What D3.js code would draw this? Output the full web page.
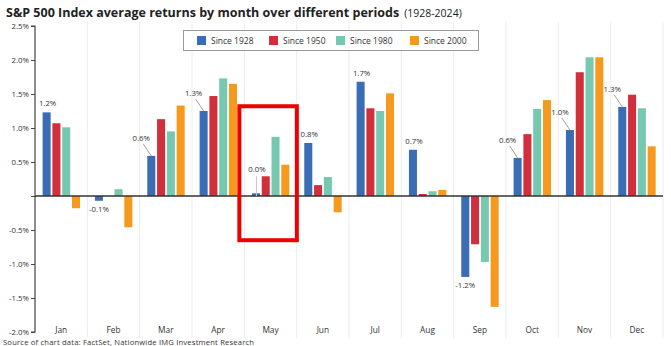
<!DOCTYPE html>
<html><head><meta charset="utf-8">
<script src="https://cdn.jsdelivr.net/npm/d3@7"></script>
<style>
body{margin:0;background:#fff;}
text{font-family:"Open Sans",sans-serif;}
</style></head>
<body><svg id="chart" width="671" height="346"></svg>
<script>
const months = ["Jan","Feb","Mar","Apr","May","Jun","Jul","Aug","Sep","Oct","Nov","Dec"];
const seriesNames = ["Since 1928","Since 1950","Since 1980","Since 2000"];
const since1928 = [1.23,-0.07,0.59,1.25,0.04,0.78,1.68,0.68,-1.19,0.56,0.97,1.31];
const since1950 = [1.07,0.0,1.13,1.47,0.29,0.16,1.29,0.03,-0.71,0.91,1.82,1.49];
const since1980 = [1.01,0.10,0.95,1.73,0.87,0.28,1.25,0.07,-0.97,1.28,2.04,1.29];
const since2000 = [-0.18,-0.46,1.33,1.65,0.46,-0.24,1.51,0.09,-1.63,1.41,2.04,0.73];
const labels = ["1.2%","-0.1%","0.6%","1.3%","0.0%","0.8%","1.7%","0.7%","-1.2%","0.6%","1.0%","1.3%"];
const yTicks = [2.5,2.0,1.5,1.0,0.5,0,-0.5,-1.0,-1.5,-2.0];
const yTickLabels = ["2.5%","2.0%","1.5%","1.0%","0.5%","","-0.5%","-1.0%","-1.5%","-2.0%"];
const highlightMonth = "May";
const colors = ["#3a6db4","#d22f3d","#76c8b0","#f6991f"];

const allSeries = [since1928,since1950,since1980,since2000];
const svg = d3.select("#chart");

const x0 = d3.scaleBand().domain(months).range([35,663]).padding(0);
const x1 = d3.scaleBand().domain(seriesNames).range([7.6,45]).paddingInner(0.18).paddingOuter(0);
const y = d3.scaleLinear().domain([-2,2.5]).range([332,26]);

// title
const title = svg.append("text").attr("x",6).attr("y",17).attr("fill","#222");
title.append("tspan").attr("font-weight","700").attr("font-size","12.5px").text("S&P 500 Index average returns by month over different periods");
title.append("tspan").attr("font-size","10.5px").attr("dx",5).text("(1928-2024)");

// vertical gridlines
const bounds = months.map(m=>x0(m)+x0.bandwidth());
svg.append("g").selectAll("line").data(bounds).join("line")
  .attr("x1",d=>d).attr("x2",d=>d).attr("y1",22).attr("y2",338)
  .attr("stroke","#ececec").attr("stroke-width",1);

// y axis
const yAxis = d3.axisLeft(y).tickValues(yTicks).tickSize(4).tickFormat((d,i)=>yTickLabels[i]);
const ya = svg.append("g").attr("transform","translate(35,0)").call(yAxis);
ya.select(".domain").attr("stroke","#444").attr("stroke-width",1.2).attr("d","M-4,26H0V332H-4");
ya.selectAll(".tick line").attr("stroke","#444");
ya.selectAll(".tick text").attr("font-family","Open Sans").attr("font-size","7.8px").attr("fill","#333").attr("x",-6);

// bars
const data = [];
months.forEach((m,i)=>seriesNames.forEach((s,j)=>data.push({m,s,j,v:allSeries[j][i]})));
svg.append("g").selectAll("rect").data(data).join("rect")
  .attr("x",d=>x0(d.m)+x1(d.s)).attr("width",x1.bandwidth())
  .attr("y",d=>y(Math.max(0,d.v))).attr("height",d=>Math.abs(y(d.v)-y(0)))
  .attr("fill",d=>colors[d.j]);

// zero line
svg.append("line").attr("x1",35).attr("x2",663).attr("y1",y(0)).attr("y2",y(0))
  .attr("stroke","#333").attr("stroke-width",1.3);

// month labels
svg.append("g").selectAll("text").data(months).join("text")
  .attr("x",d=>x0(d)+x0.bandwidth()/2).attr("y",332.5).attr("text-anchor","middle")
  .attr("font-size","8.3px").attr("fill","#333").text(d=>d);

// value labels (blue series)
// mode: a=above, b=below, l=leader, v=vertical leader
const modes = ["a","b","l","l","v","a","a","a","b","l","l","l"];
const lg = svg.append("g");
months.forEach((m,i)=>{
  const v = since1928[i];
  const bx = x0(m)+x1(seriesNames[0]);
  const cx = bx + x1.bandwidth()/2;
  const mode = modes[i];
  let tx, ty, anchor="middle";
  if(mode==="a"){ tx = cx+1; ty = y(v)-6; }
  else if(mode==="b"){ tx = cx; ty = y(v)+11; }
  else if(mode==="l"){
    tx = cx-10; ty = y(v)-15;
    lg.append("line").attr("x1",cx-8).attr("y1",y(v)-12).attr("x2",cx).attr("y2",y(v))
      .attr("stroke","#888").attr("stroke-width",0.8);
  } else {
    tx = cx+1; ty = y(v)-21;
    lg.append("line").attr("x1",cx+0.5).attr("y1",y(v)-17).attr("x2",cx+0.5).attr("y2",y(0))
      .attr("stroke","#c8c0d8").attr("stroke-width",1);
  }
  lg.append("text").attr("x",tx).attr("y",ty).attr("text-anchor",anchor)
    .attr("font-size","7.8px").attr("fill","#333").text(labels[i]);
});

// legend
const leg = svg.append("g");
leg.append("rect").attr("x",183.5).attr("y",30.5).attr("width",295).attr("height",20)
  .attr("fill","#fff").attr("stroke","#999").attr("stroke-width",1);
const legX = [197,269,336,410];
seriesNames.forEach((s,j)=>{
  leg.append("rect").attr("x",legX[j]).attr("y",36).attr("width",9).attr("height",9).attr("fill",colors[j]);
  leg.append("text").attr("x",legX[j]+14).attr("y",43.5).attr("font-size","8.5px").attr("fill","#333").text(s);
});

// highlight box
const hx = x0(highlightMonth);
svg.append("rect").attr("x",hx-5).attr("y",y(1.32)).attr("width",57.5)
  .attr("height",y(-0.65)-y(1.32)).attr("fill","none").attr("stroke","#ee0000").attr("stroke-width",4);

// source
svg.append("text").attr("x",3).attr("y",345.2).attr("font-size","7.6px").attr("letter-spacing","0.2px").attr("fill","#333")
  .text("Source of chart data: FactSet, Nationwide IMG Investment Research");
</script></body></html>
